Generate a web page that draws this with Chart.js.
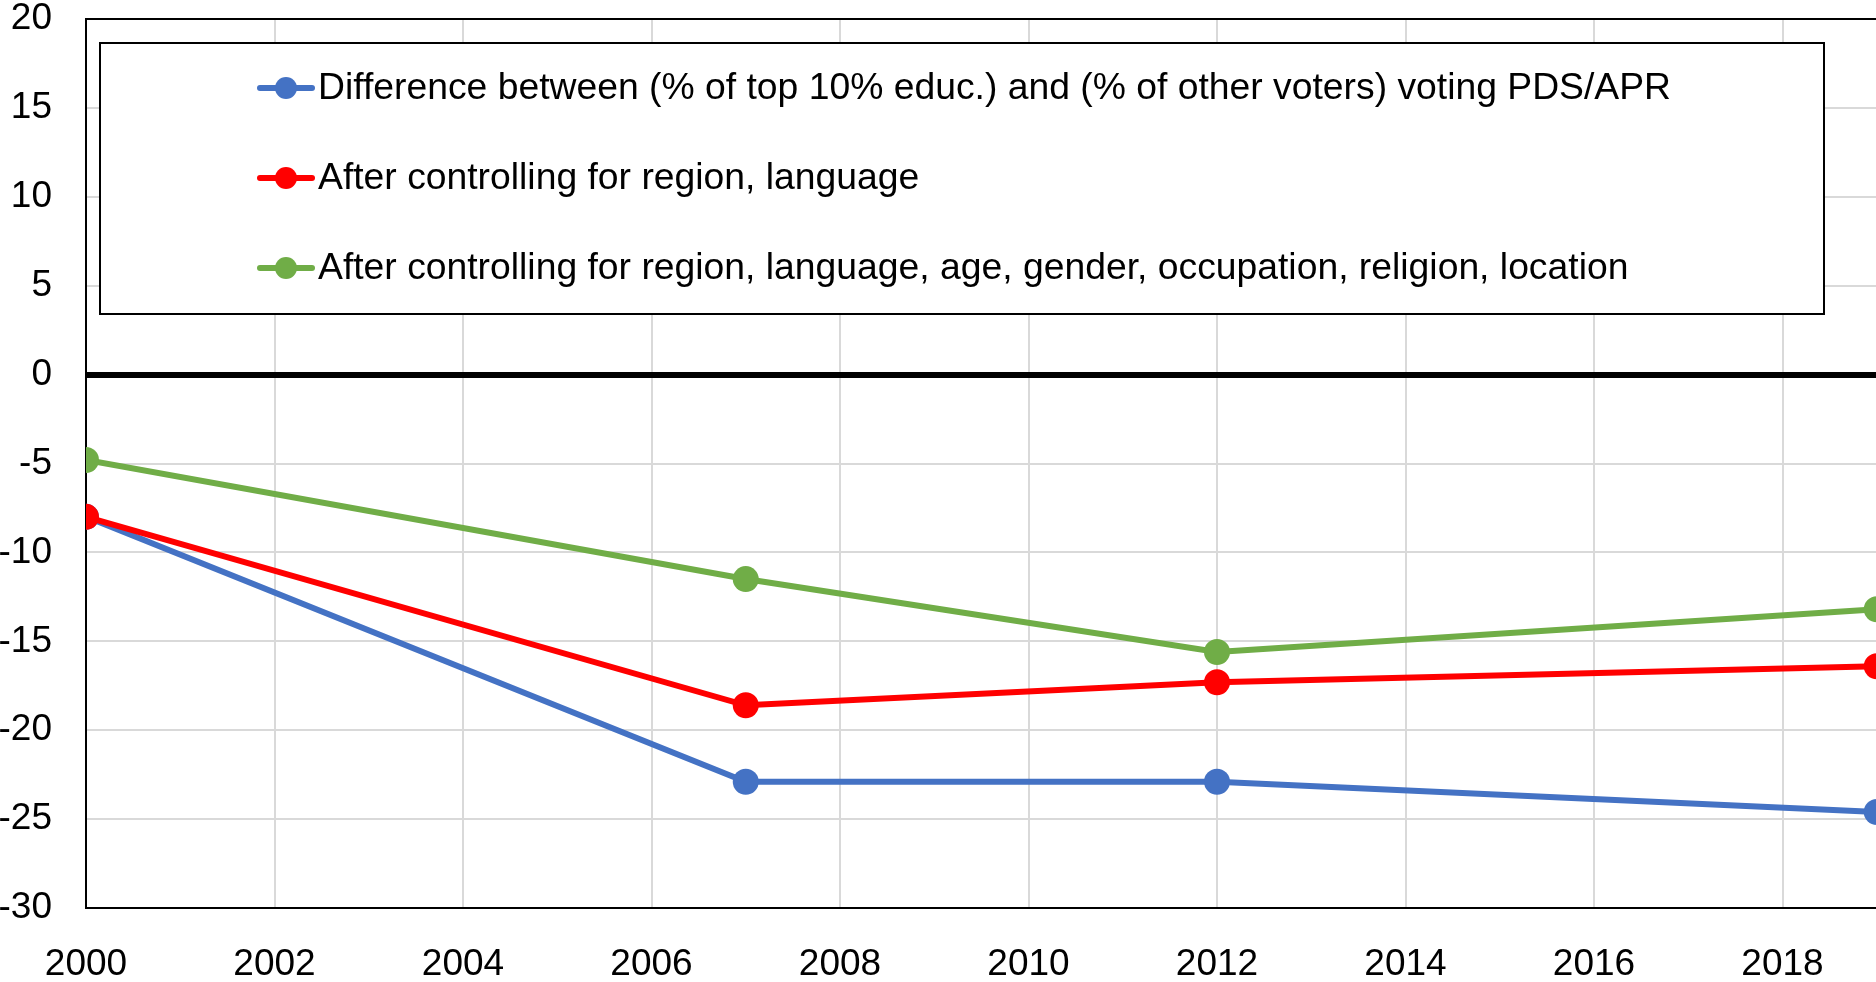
<!DOCTYPE html>
<html>
<head>
<meta charset="utf-8">
<title>Education gap in PDS/APR vote</title>
<script src="https://cdn.jsdelivr.net/npm/chart.js@4/dist/chart.umd.min.js"></script>
<style>
  html, body { margin:0; padding:0; background:#fff; overflow:hidden; }
  #wrap { width:2020px; height:982px; position:relative; }
</style>
</head>
<body>
<div id="wrap"><canvas id="chart"></canvas></div>
<script>
// election years and gap (pts) between top 10% educated and other voters
const years = [2000, 2007, 2012, 2019];
const gapRaw = [-8.0, -22.9, -22.9, -24.6];
const gapRegion = [-8.0, -18.6, -17.3, -16.4];
const gapFull = [-4.8, -11.5, -15.6, -13.2];

const seriesNames = [
  'Difference between (% of top 10% educ.) and (% of other voters) voting PDS/APR',
  'After controlling for region, language',
  'After controlling for region, language, age, gender, occupation, religion, location'
];
const seriesColors = ['#4472C4', '#FF0000', '#70AD47'];

const xTickValues = [2000, 2002, 2004, 2006, 2008, 2010, 2012, 2014, 2016, 2018];
const yTickValues = [-30, -25, -20, -15, -10, -5, 0, 5, 10, 15, 20];

const FONT = "'Liberation Sans', Arial, sans-serif";

function toPoints(vals){ return years.map((y, i) => ({ x: y, y: vals[i] })); }

function makeSet(label, vals, color, order){
  return {
    label, data: toPoints(vals), order,
    borderColor: color, backgroundColor: color,
    borderWidth: 6, tension: 0,
    pointRadius: 13, pointHoverRadius: 13,
    pointBackgroundColor: color, pointBorderWidth: 0
  };
}

// boxed legend inside the plot + top frame line
const boxLegend = {
  id: 'boxLegend',
  afterDraw(chart){
    const ctx = chart.ctx;
    const area = chart.chartArea;
    ctx.save();
    ctx.strokeStyle = '#000';
    ctx.lineWidth = 2;
    ctx.beginPath();
    ctx.moveTo(area.left, area.top);
    ctx.lineTo(area.right, area.top);
    ctx.stroke();

    const bx = area.left + 14, by = area.top + 24, bw = 1724, bh = 271;
    ctx.fillStyle = '#fff';
    ctx.fillRect(bx, by, bw, bh);
    ctx.strokeRect(bx, by, bw, bh);

    ctx.font = '37.3px ' + FONT;
    ctx.textBaseline = 'middle';
    ctx.textAlign = 'left';
    seriesNames.forEach((name, i) => {
      const cy = by + 45 + i * 90;
      const c = seriesColors[i];
      ctx.strokeStyle = c;
      ctx.lineWidth = 6;
      ctx.lineCap = 'round';
      ctx.beginPath();
      ctx.moveTo(bx + 160, cy);
      ctx.lineTo(bx + 212, cy);
      ctx.stroke();
      ctx.fillStyle = c;
      ctx.beginPath();
      ctx.arc(bx + 186, cy, 11, 0, Math.PI * 2);
      ctx.fill();
      ctx.fillStyle = '#000';
      ctx.fillText(name, bx + 218, cy + 1);
    });
    ctx.restore();
  }
};

new Chart(document.getElementById('chart'), {
  type: 'line',
  data: {
    datasets: [
      makeSet(seriesNames[0], gapRaw, seriesColors[0], 3),
      makeSet(seriesNames[1], gapRegion, seriesColors[1], 2),
      makeSet(seriesNames[2], gapFull, seriesColors[2], 1)
    ]
  },
  options: {
    responsive: true,
    maintainAspectRatio: false,
    animation: false,
    layout: { padding: { top: 19, right: 49, left: 0, bottom: 0 } },
    plugins: { legend: { display: false }, tooltip: { enabled: false } },
    scales: {
      x: {
        type: 'linear', min: 2000, max: 2020,
        afterBuildTicks: s => { s.ticks = xTickValues.map(v => ({ value: v })); },
        afterFit: s => { s.height = 74; s.paddingLeft = 0; s.paddingRight = 0; },
        grid: { color: '#d9d9d9', lineWidth: 2, drawTicks: false },
        border: { color: '#000', width: 2 },
        ticks: { color: '#000', padding: 35, maxRotation: 0, autoSkip: false,
                 font: { family: FONT, size: 37 }, callback: v => String(v) }
      },
      y: {
        min: -30, max: 20,
        afterBuildTicks: s => { s.ticks = yTickValues.map(v => ({ value: v })); },
        afterFit: s => { s.width = 86; s.paddingTop = 0; s.paddingBottom = 0; },
        grid: {
          drawTicks: false,
          color: c => c.tick && c.tick.value === 0 ? '#000' : '#d9d9d9',
          lineWidth: c => c.tick && c.tick.value === 0 ? 6 : 2
        },
        border: { color: '#000', width: 2 },
        ticks: { color: '#000', padding: 34, font: { family: FONT, size: 37 } }
      }
    }
  },
  plugins: [boxLegend]
});
</script>
</body>
</html>
